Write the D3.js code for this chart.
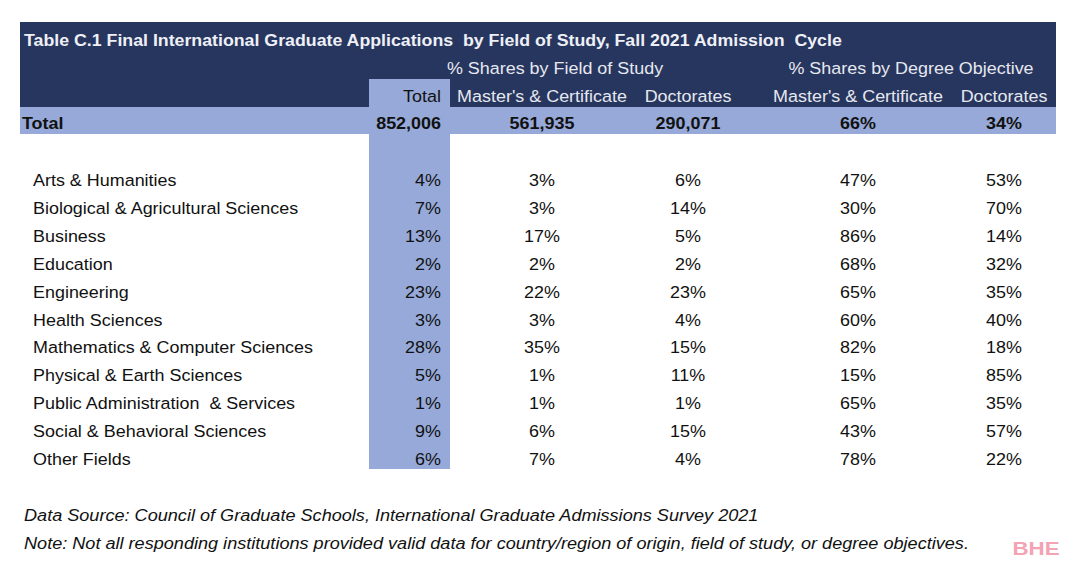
<!DOCTYPE html>
<html><head><meta charset="utf-8">
<script src="https://cdn.jsdelivr.net/npm/d3@7"></script>
<style>body{margin:0;background:#fff}svg{display:block}</style>
</head><body>
<script>
const title = "Table C.1 Final International Graduate Applications  by Field of Study, Fall 2021 Admission  Cycle";
const groupHeaders = ["% Shares by Field of Study", "% Shares by Degree Objective"];
const columnHeaders = ["Total", "Master's & Certificate", "Doctorates", "Master's & Certificate", "Doctorates"];
const totalRow = ["852,006", "561,935", "290,071", "66%", "34%"];
const fields = ["Arts & Humanities","Biological & Agricultural Sciences","Business","Education","Engineering","Health Sciences","Mathematics & Computer Sciences","Physical & Earth Sciences","Public Administration  & Services","Social & Behavioral Sciences","Other Fields"];
const totalShare = [4,7,13,2,23,3,28,5,1,9,6];
const fieldMasters = [3,3,17,2,22,3,35,1,1,6,7];
const fieldDoctorates = [6,14,5,2,23,4,15,11,1,15,4];
const degreeMasters = [47,30,86,68,65,60,82,15,65,43,78];
const degreeDoctorates = [53,70,14,32,35,40,18,85,35,57,22];
const notes = ["Data Source: Council of Graduate Schools, International Graduate Admissions Survey 2021",
"Note: Not all responding institutions provided valid data for country/region of origin, field of study, or degree objectives."];

const W=1080,H=577;
const navy="#27365f", light="#96a9d8";
const font="'Liberation Sans', Arial, sans-serif";
const svg=d3.select("body").append("svg").attr("width",W).attr("height",H).style("font-family",font);

const cols=[{x:441,a:"end"},{x:542,a:"middle"},{x:688,a:"middle"},{x:858,a:"middle"},{x:1004,a:"middle"}];
const y=d3.scaleBand().domain(fields).range([166,473]);
const SX=1.055;

function txt(parent,x,yy,s,opt={}){
  return parent.append("text")
    .attr("transform",`translate(${x},${yy}) scale(${opt.sx||SX},1)`)
    .attr("text-anchor",opt.a||"start")
    .attr("font-size",opt.fs||17)
    .attr("font-weight",opt.bold?"bold":null)
    .attr("font-style",opt.italic?"italic":null)
    .attr("fill",opt.fill||"#111")
    .style("white-space","pre")
    .text(s);
}

svg.append("rect").attr("x",20).attr("y",22).attr("width",1036).attr("height",85).attr("fill",navy);
svg.append("rect").attr("x",20).attr("y",107).attr("width",1036).attr("height",27).attr("fill",light);
svg.append("rect").attr("x",369).attr("y",79).attr("width",81).attr("height",390).attr("fill",light);

txt(svg,24,46,title,{bold:true,fill:"#eef0f6",sx:1.045});
const gx=[555,911];
groupHeaders.forEach((g,i)=>txt(svg,gx[i],74,g,{a:"middle",fill:"#e6e8ef"}));
columnHeaders.forEach((h,i)=>txt(svg,cols[i].x,102,h,{a:cols[i].a,fill:i==0?"#111":"#e6e8ef"}));

txt(svg,22,129,"Total",{bold:true});
totalRow.forEach((v,i)=>txt(svg,cols[i].x,129,v,{a:cols[i].a,bold:true}));

const series=[totalShare,fieldMasters,fieldDoctorates,degreeMasters,degreeDoctorates];
fields.forEach((f,j)=>{
  const yy=y(f)+y.bandwidth()/2+6;
  txt(svg,33,yy,f);
  series.forEach((s,i)=>txt(svg,cols[i].x,yy,s[j]+"%",{a:cols[i].a}));
});

notes.forEach((n,i)=>txt(svg,24,521+i*28,n,{italic:true,fs:17,sx:1.065}));
txt(svg,1036,555,"BHE",{a:"middle",bold:true,fs:18,sx:1.24,fill:"#f3a3b4"});
</script>
</body></html>
